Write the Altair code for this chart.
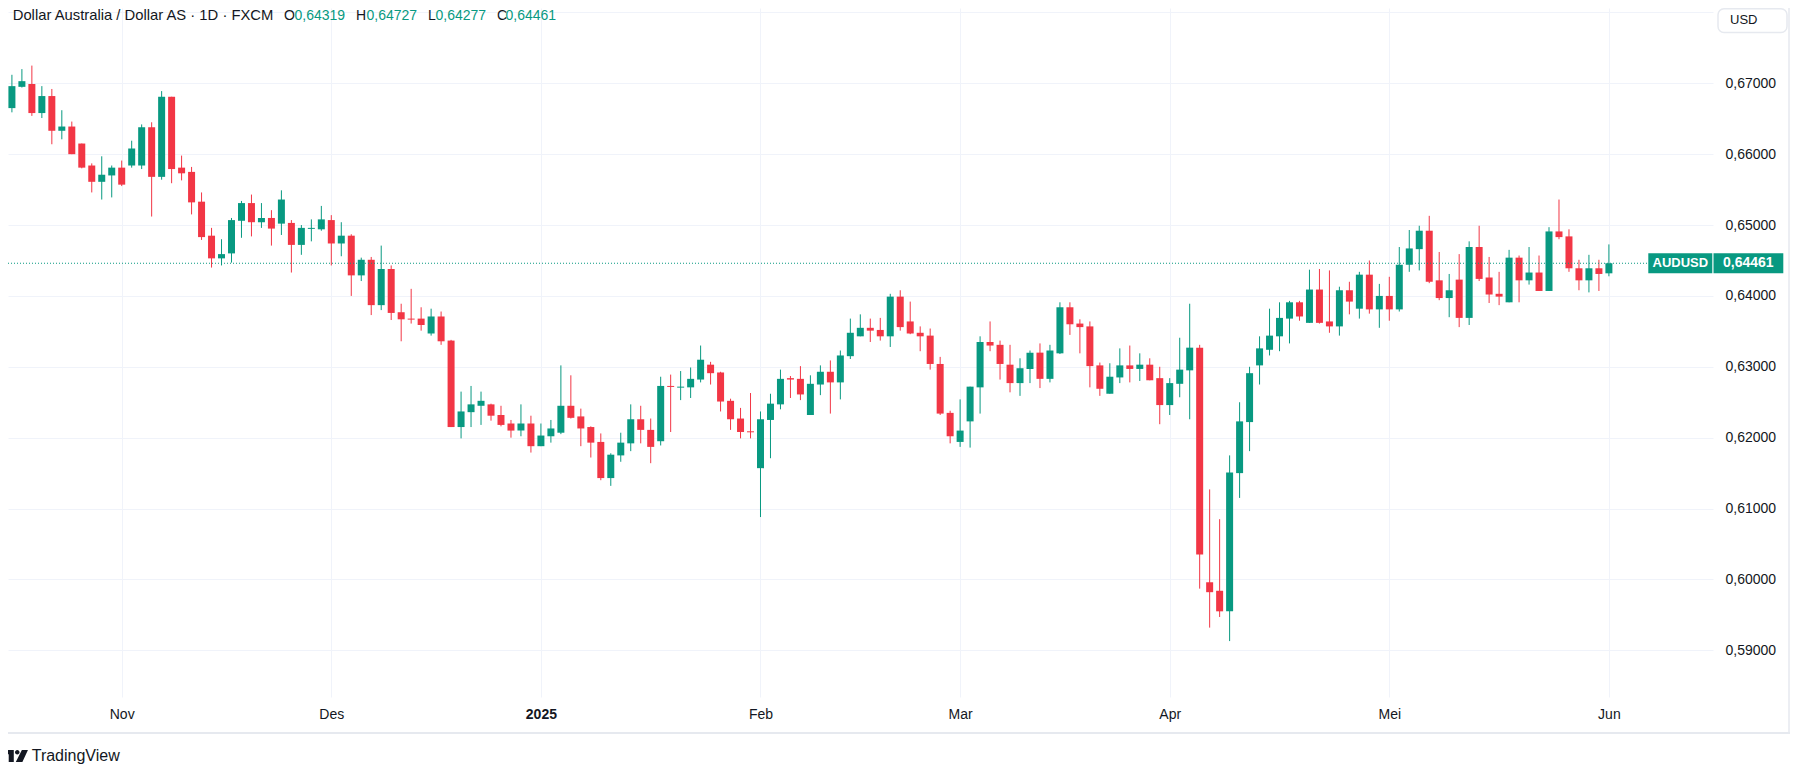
import altair as alt
import pandas as pd

FONT = "Liberation Sans"
GREEN = "#089981"
RED = "#F23645"
TXT = "#131722"
GRID = "#f0f3fa"
FRAME = "#e6e9ef"

# ---- data: daily AUDUSD candles, 16 Oct 2024 .. 2 Jun 2025 (bar index 0..161)
open_ = [
    0.6703, 0.6665, 0.6695, 0.6699, 0.6658, 0.6682, 0.6633, 0.6639, 0.6615, 0.6584,
    0.6561, 0.6570, 0.6581, 0.6584, 0.6584, 0.6638, 0.6568, 0.6681, 0.6581, 0.6575,
    0.6533, 0.6485, 0.6453, 0.6460, 0.6506, 0.6531, 0.6504, 0.6510, 0.6502, 0.6503,
    0.6472, 0.6495, 0.6494, 0.6507, 0.6474, 0.6485, 0.6429, 0.6451, 0.6387, 0.6438,
    0.6377, 0.6368, 0.6368, 0.6347, 0.6371, 0.6337, 0.6215, 0.6236, 0.6245, 0.6247,
    0.6232, 0.6220, 0.6210, 0.6220, 0.6188, 0.6202, 0.6207, 0.6245, 0.6230, 0.6215,
    0.6194, 0.6143, 0.6175, 0.6192, 0.6226, 0.6211, 0.6195, 0.6273, 0.6271, 0.6271,
    0.6282, 0.6303, 0.6292, 0.6252, 0.6227, 0.6209, 0.6157, 0.6225, 0.6247, 0.6284,
    0.6283, 0.6232, 0.6275, 0.6293, 0.6278, 0.6315, 0.6343, 0.6355, 0.6352, 0.6343,
    0.6399, 0.6364, 0.6348, 0.6344, 0.6304, 0.6235, 0.6194, 0.6223, 0.6271, 0.6335,
    0.6331, 0.6303, 0.6277, 0.6297, 0.6320, 0.6283, 0.6319, 0.6384, 0.6361, 0.6357,
    0.6302, 0.6262, 0.6285, 0.6302, 0.6297, 0.6303, 0.6284, 0.6246, 0.6276, 0.6295,
    0.6327, 0.5996, 0.5984, 0.5955, 0.6150, 0.6222, 0.6302, 0.6324, 0.6343, 0.6368,
    0.6391, 0.6362, 0.6409, 0.6364, 0.6357, 0.6408, 0.6382, 0.6430, 0.6381, 0.6400,
    0.6381, 0.6444, 0.6466, 0.6492, 0.6422, 0.6397, 0.6423, 0.6369, 0.6469, 0.6426,
    0.6403, 0.6391, 0.6454, 0.6422, 0.6433, 0.6407, 0.6491, 0.6484, 0.6439, 0.6422,
    0.6439, 0.64319,
]
high = [
    0.6712, 0.6712, 0.6720, 0.6725, 0.6696, 0.6692, 0.6662, 0.6646, 0.6615, 0.6587,
    0.6597, 0.6584, 0.6591, 0.6619, 0.6642, 0.6645, 0.6689, 0.6681, 0.6598, 0.6582,
    0.6546, 0.6496, 0.6480, 0.6510, 0.6534, 0.6543, 0.6531, 0.6521, 0.6549, 0.6507,
    0.6500, 0.6508, 0.6527, 0.6514, 0.6504, 0.6487, 0.6454, 0.6455, 0.6471, 0.6443,
    0.6389, 0.6410, 0.6384, 0.6382, 0.6378, 0.6338, 0.6265, 0.6273, 0.6265, 0.6248,
    0.6245, 0.6225, 0.6247, 0.6231, 0.6220, 0.6225, 0.6302, 0.6288, 0.6241, 0.6216,
    0.6206, 0.6178, 0.6207, 0.6247, 0.6245, 0.6227, 0.6286, 0.6289, 0.6294, 0.6299,
    0.6330, 0.6307, 0.6293, 0.6255, 0.6242, 0.6263, 0.6237, 0.6262, 0.6296, 0.6287,
    0.6301, 0.6288, 0.6302, 0.6309, 0.6323, 0.6368, 0.6374, 0.6368, 0.6369, 0.6403,
    0.6408, 0.6392, 0.6357, 0.6354, 0.6314, 0.6238, 0.6254, 0.6272, 0.6343, 0.6364,
    0.6337, 0.6331, 0.6312, 0.6323, 0.6333, 0.6331, 0.6391, 0.6391, 0.6367, 0.6364,
    0.6306, 0.6305, 0.6326, 0.6330, 0.6319, 0.6312, 0.6300, 0.6284, 0.6341, 0.6389,
    0.6331, 0.6127, 0.6085, 0.6175, 0.6250, 0.6300, 0.6343, 0.6382, 0.6391, 0.6393,
    0.6393, 0.6437, 0.6438, 0.6436, 0.6413, 0.6420, 0.6434, 0.6450, 0.6417, 0.6427,
    0.6469, 0.6493, 0.6499, 0.6513, 0.6462, 0.6431, 0.6459, 0.6477, 0.6499, 0.6455,
    0.6434, 0.6465, 0.6457, 0.6469, 0.6457, 0.6497, 0.6536, 0.6494, 0.6451, 0.6458,
    0.6451, 0.64727,
]
low = [
    0.6658, 0.6659, 0.6694, 0.6654, 0.6651, 0.6614, 0.6621, 0.6600, 0.6580, 0.6546,
    0.6536, 0.6539, 0.6555, 0.6581, 0.6579, 0.6512, 0.6564, 0.6559, 0.6563, 0.6515,
    0.6479, 0.6440, 0.6443, 0.6447, 0.6482, 0.6484, 0.6496, 0.6471, 0.6486, 0.6433,
    0.6458, 0.6477, 0.6492, 0.6443, 0.6456, 0.6400, 0.6421, 0.6373, 0.6380, 0.6366,
    0.6336, 0.6361, 0.6351, 0.6344, 0.6331, 0.6215, 0.6199, 0.6215, 0.6218, 0.6224,
    0.6216, 0.6200, 0.6202, 0.6179, 0.6188, 0.6193, 0.6205, 0.6227, 0.6188, 0.6172,
    0.6140, 0.6132, 0.6166, 0.6181, 0.6192, 0.6164, 0.6189, 0.6208, 0.6253, 0.6256,
    0.6278, 0.6275, 0.6237, 0.6211, 0.6199, 0.6199, 0.6088, 0.6171, 0.6240, 0.6256,
    0.6253, 0.6232, 0.6260, 0.6234, 0.6254, 0.6311, 0.6343, 0.6335, 0.6337, 0.6328,
    0.6351, 0.6346, 0.6322, 0.6296, 0.6232, 0.6192, 0.6187, 0.6186, 0.6234, 0.6322,
    0.6282, 0.6264, 0.6259, 0.6277, 0.6270, 0.6278, 0.6318, 0.6345, 0.6319, 0.6271,
    0.6259, 0.6262, 0.6277, 0.6278, 0.6280, 0.6281, 0.6219, 0.6232, 0.6257, 0.6226,
    0.5987, 0.5932, 0.5947, 0.5913, 0.6115, 0.6181, 0.6275, 0.6316, 0.6322, 0.6333,
    0.6365, 0.6362, 0.6361, 0.6348, 0.6344, 0.6374, 0.6368, 0.6375, 0.6355, 0.6365,
    0.6378, 0.6434, 0.6436, 0.6418, 0.6394, 0.6370, 0.6356, 0.6359, 0.6421, 0.6390,
    0.6387, 0.6391, 0.6391, 0.6416, 0.6407, 0.6407, 0.6480, 0.6434, 0.6408, 0.6405,
    0.6407, 0.64277,
]
close = [
    0.6665, 0.6696, 0.6703, 0.6658, 0.6682, 0.6633, 0.6639, 0.6600, 0.6581, 0.6561,
    0.6571, 0.6581, 0.6557, 0.6608, 0.6638, 0.6568, 0.6681, 0.6579, 0.6573, 0.6532,
    0.6483, 0.6453, 0.6459, 0.6507, 0.6531, 0.6504, 0.6510, 0.6495, 0.6536, 0.6472,
    0.6496, 0.6496, 0.6508, 0.6474, 0.6485, 0.6429, 0.6451, 0.6387, 0.6438, 0.6376,
    0.6367, 0.6367, 0.6359, 0.6371, 0.6336, 0.6215, 0.6237, 0.6247, 0.6252, 0.6231,
    0.6218, 0.6210, 0.6220, 0.6188, 0.6203, 0.6213, 0.6245, 0.6228, 0.6213, 0.6193,
    0.6143, 0.6176, 0.6193, 0.6226, 0.6211, 0.6187, 0.6273, 0.6272, 0.6272, 0.6283,
    0.6310, 0.6291, 0.6251, 0.6226, 0.6208, 0.6208, 0.6226, 0.6248, 0.6283, 0.6282,
    0.6261, 0.6276, 0.6293, 0.6278, 0.6316, 0.6348, 0.6355, 0.6351, 0.6343, 0.6399,
    0.6356, 0.6347, 0.6343, 0.6304, 0.6234, 0.6202, 0.6210, 0.6272, 0.6335, 0.6330,
    0.6304, 0.6277, 0.6298, 0.6320, 0.6283, 0.6323, 0.6384, 0.6360, 0.6356, 0.6301,
    0.6269, 0.6286, 0.6302, 0.6297, 0.6303, 0.6281, 0.6246, 0.6277, 0.6296, 0.6327,
    0.6035, 0.5982, 0.5955, 0.6151, 0.6223, 0.6291, 0.6326, 0.6344, 0.6369, 0.6391,
    0.6371, 0.6409, 0.6362, 0.6357, 0.6408, 0.6392, 0.6430, 0.6381, 0.6400, 0.6381,
    0.6444, 0.6467, 0.6492, 0.6420, 0.6397, 0.6408, 0.6369, 0.6469, 0.6424, 0.6402,
    0.6399, 0.6454, 0.6422, 0.6433, 0.6407, 0.6491, 0.6483, 0.6439, 0.6422, 0.6439,
    0.6431, 0.64461,
]

month_idx = [12, 33, 54, 76, 96, 117, 139, 161]
month_lbl = ["Nov", "Des", "2025", "Feb", "Mar", "Apr", "Mei", "Jun"]
year_idx = 54
price_ticks = [0.59, 0.60, 0.61, 0.62, 0.63, 0.64, 0.65, 0.66, 0.67, 0.68]

symbol = "AUDUSD"
title_main = "Dollar Australia / Dollar AS \u00b7 1D \u00b7 FXCM"
currency = "USD"
brand = "TradingView"

df = pd.DataFrame({"i": list(range(len(close))), "o": open_, "h": high, "l": low, "c": close})
last = df.iloc[[-1]].reset_index(drop=True)
one = pd.DataFrame({"k": [0]})


def fmt(v):
    return f"{v:.5f}".replace(".", ",")


W, H = 1705, 689
XS = alt.Scale(domain=[0.608, 171.43], nice=False, zero=False, padding=0)
YS = alt.Scale(domain=[0.583412, 0.680624], nice=False, zero=False, padding=0)

lbl_arr = "[" + ",".join(f"'{m}'" for m in month_lbl) + "]"
idx_arr = "[" + ",".join(str(v) for v in month_idx) + "]"

XAX = alt.Axis(
    values=month_idx,
    labelExpr=f"{lbl_arr}[indexof({idx_arr}, datum.value)]",
    grid=True, gridColor=GRID, gridWidth=1,
    ticks=False, tickSize=0, domain=False,
    labelFont=FONT, labelFontSize=14, labelColor=TXT,
    labelFontWeight={"condition": {"test": f"datum.value == {year_idx}", "value": "bold"}, "value": "normal"},
    labelPadding=17, labelBaseline="middle", labelFlush=False, labelOverlap=False,
    title=None,
)
YAX = alt.Axis(
    orient="right",
    values=price_ticks,
    labelExpr="datum.value > 0.675 ? '' : replace(format(datum.value, '.5f'), '.', ',')",
    grid=True, gridColor=GRID, gridWidth=1,
    ticks=False, tickSize=0, domain=False,
    labelFont=FONT, labelFontSize=14, labelColor=TXT,
    labelAlign="left", labelBaseline="middle", labelPadding=12,
    labelFlush=False, labelOverlap=False,
    title=None,
)

color = alt.Color(
    "dir:N",
    scale=alt.Scale(domain=["up", "down"], range=[GREEN, RED]),
    legend=None,
)

base = alt.Chart(df).transform_calculate(
    dir="datum.c >= datum.o ? 'up' : 'down'",
    bt="max(datum.o, datum.c)",
    bb0="min(datum.o, datum.c)",
).transform_calculate(
    bb="(datum.bt - datum.bb0) < 0.00014 ? datum.bt - 0.00014 : datum.bb0",
)

wicks = base.mark_rule(strokeWidth=1, clip=True).encode(
    x=alt.X("i:Q", scale=XS, axis=XAX, title=None),
    y=alt.Y("l:Q", scale=YS, axis=YAX, title=None),
    y2="h:Q",
    color=color,
)

bodies = base.mark_bar(size=7, clip=True, orient="vertical").encode(
    x=alt.X("i:Q", scale=XS, axis=XAX, title=None),
    y=alt.Y("bt:Q", scale=YS, axis=YAX, title=None),
    y2="bb:Q",
    color=color,
)

last_y = alt.Y("c:Q", scale=YS, axis=YAX, title=None)

price_line = alt.Chart(last).mark_rule(color=GREEN, strokeDash=[1, 2], strokeWidth=1).encode(
    x=alt.value(0), x2=alt.value(1640), y=last_y
)
badge1 = alt.Chart(last).mark_rule(color=GREEN, strokeWidth=20, strokeCap="butt").encode(
    x=alt.value(1640.3), x2=alt.value(1704.3), y=last_y
)
badge2 = alt.Chart(last).mark_rule(color=GREEN, strokeWidth=20, strokeCap="butt").encode(
    x=alt.value(1705.5), x2=alt.value(1775.3), y=last_y
)
badge1_t = alt.Chart(last).mark_text(
    text=symbol, font=FONT, fontSize=13, fontWeight="bold", color="white",
    align="center", baseline="middle",
).encode(x=alt.value(1672.3), y=last_y)
badge2_t = alt.Chart(last).transform_calculate(
    lbl="replace(format(datum.c, '.5f'), '.', ',')"
).mark_text(
    font=FONT, fontSize=14, fontWeight="bold", color="white",
    align="center", baseline="middle",
).encode(x=alt.value(1740.3), y=last_y, text="lbl:N")

usd_box = alt.Chart(one).mark_rect(
    fill="white", stroke=FRAME, strokeWidth=1.5, cornerRadius=6
).encode(x=alt.value(1710), x2=alt.value(1779), y=alt.value(0.75), y2=alt.value(24.5))


def txt(text, x, y, size=14, col=TXT, weight="normal"):
    return alt.Chart(one).mark_text(
        text=text, font=FONT, fontSize=size, color=col, fontWeight=weight,
        align="left", baseline="middle",
    ).encode(x=alt.value(x), y=alt.value(y))


usd_t = txt(currency, 1722, 12, size=13)

o_, h_, l_, c_ = open_[-1], high[-1], low[-1], close[-1]
TY = 7.5
title_layers = [
    txt(title_main, 4.7, TY, size=14.8),
    txt("O", 276.0, TY), txt(fmt(o_), 286.5, TY, col=GREEN),
    txt("H", 348.0, TY), txt(fmt(h_), 358.5, TY, col=GREEN),
    txt("L", 420.0, TY), txt(fmt(l_), 427.5, TY, col=GREEN),
    txt("C", 489.0, TY), txt(fmt(c_), 497.5, TY, col=GREEN),
]

logo_path = (
    "M-1,-0.48 L-0.12,-0.48 L-0.12,0.48 L-0.52,0.48 L-0.52,-0.14 L-1,-0.14 Z "
    "M-0.024,-0.30 A0.18,0.18 0 1 0 0.336,-0.30 A0.18,0.18 0 1 0 -0.024,-0.30 Z "
    "M0.52,-0.48 L1,-0.48 L0.56,0.48 L0.04,0.48 Z"
)
logo = alt.Chart(one).mark_point(
    shape=logo_path, size=640, filled=True, color=TXT, opacity=1, strokeWidth=0
).encode(x=alt.value(7.3), y=alt.value(748))
logo_t = txt(brand, 23.7, 748, size=16)

frame_bottom = alt.Chart(one).mark_rule(color=FRAME, strokeWidth=2).encode(
    x=alt.value(0), x2=alt.value(1782), y=alt.value(725)
)
frame_right = alt.Chart(one).mark_rule(color=FRAME, strokeWidth=1.5).encode(
    x=alt.value(1781), y=alt.value(0), y2=alt.value(725)
)

chart = alt.layer(
    wicks, bodies, price_line, badge1, badge2, badge1_t, badge2_t,
    usd_box, usd_t, *title_layers, logo, logo_t, frame_bottom, frame_right,
).properties(
    width=W, height=H,
    autosize=alt.AutoSizeParams(type="none"),
    padding={"left": 0, "top": 0, "right": 80, "bottom": 67},
    background="white",
).configure_view(stroke=None)

chart.save("out.html", embed_options={"renderer": "svg", "actions": False})
